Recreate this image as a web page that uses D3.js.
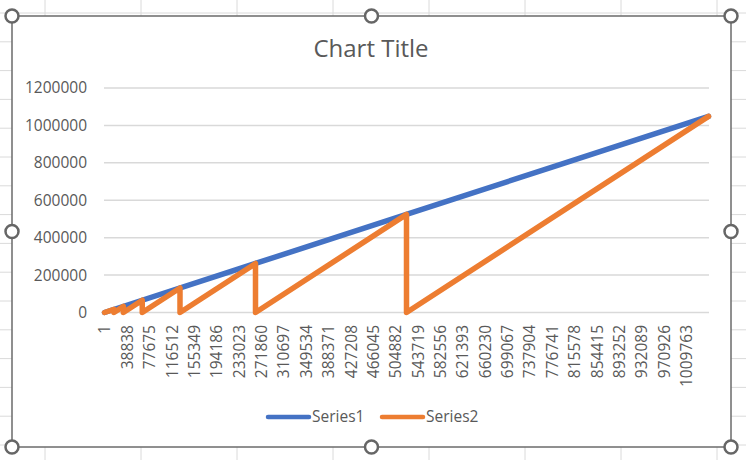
<!DOCTYPE html>
<html>
<head>
<meta charset="utf-8">
<script src="https://cdn.jsdelivr.net/npm/d3@7"></script>
<style>
  html, body { margin: 0; padding: 0; background: #fff; }
  svg { display: block; }
  text { font-family: "Open Sans", "Noto Sans", sans-serif; fill: #595959; }
</style>
</head>
<body>
<div id="chart"></div>
<script>
// values
const xTickLabels = [1, 38838, 77675, 116512, 155349, 194186, 233023, 271860, 310697,
    349534, 388371, 427208, 466045, 504882, 543719, 582556, 621393, 660230, 699067,
    737904, 776741, 815578, 854415, 893252, 932089, 970926, 1009763];
const yTicks = [0, 200000, 400000, 600000, 800000, 1000000, 1200000];

// Series1: straight ramp
const series1X = [1, 262144, 524288, 786432, 1048576];
const series1Y = [0, 262144, 524288, 786432, 1048576];

// Series2: sawtooth, drops back to 0
const series2X = [1, 16384, 16384, 32768, 32768, 65536, 65536, 131072, 131072,
    262144, 262144, 524288, 524288, 1048576];
const series2Y = [0, 16384, 0, 32768, 0, 65536, 0, 131072, 0,
    262144, 0, 524288, 0, 1048576];

const seriesNames = ["Series1", "Series2"];
const seriesColors = ["#4472C4", "#ED7D31"];

const width = 746, height = 460;

const svg = d3.select("#chart").append("svg")
    .attr("width", width)
    .attr("height", height);

// spreadsheet cells behind the chart
const cols = d3.range(45, width, 96);
const rows = d3.range(13, height, 28.8);
svg.append("g").selectAll("line.col").data(cols).enter().append("line")
    .attr("x1", d => d).attr("x2", d => d)
    .attr("y1", 0).attr("y2", height)
    .attr("stroke", "#dadada").attr("stroke-width", 1);
svg.append("g").selectAll("line.row").data(rows).enter().append("line")
    .attr("x1", 0).attr("x2", width)
    .attr("y1", d => d).attr("y2", d => d)
    .attr("stroke", "#dadada").attr("stroke-width", 1);

// chart frame
const frame = { left: 12, top: 16, right: 731, bottom: 447 };
svg.append("rect")
    .attr("x", frame.left).attr("y", frame.top)
    .attr("width", frame.right - frame.left)
    .attr("height", frame.bottom - frame.top)
    .attr("fill", "#fff")
    .attr("stroke", "#6b6b6b")
    .attr("stroke-width", 1.5);

// scales
const x = d3.scaleLinear()
    .domain([1, 1048576])
    .range([104.5, 708.5]);

const y = d3.scaleLinear()
    .domain([0, 1200000])
    .range([312.5, 88]);

// gridlines
svg.append("g").selectAll("line").data(yTicks).enter().append("line")
    .attr("x1", 104).attr("x2", 709)
    .attr("y1", d => y(d)).attr("y2", d => y(d))
    .attr("stroke", "#d9d9d9").attr("stroke-width", 1.5);

// y axis labels
const yAxis = svg.append("g")
    .attr("transform", "translate(95,0)")
    .call(d3.axisLeft(y).tickValues(yTicks).tickSize(0).tickPadding(8).tickFormat(d3.format("d")));
yAxis.select(".domain").remove();
yAxis.selectAll("text")
    .attr("fill", "#595959")
    .style("font-size", "15.5px")
    .style("font-family", "'Open Sans', sans-serif");

// x axis labels (rotated)
const xAxis = svg.append("g")
    .attr("transform", `translate(0, ${y(0)})`)
    .call(d3.axisBottom(x).tickValues(xTickLabels).tickSize(0).tickFormat(d3.format("d")));
xAxis.select(".domain").remove();
xAxis.selectAll("text")
    .attr("fill", "#595959")
    .style("font-size", "15.5px")
    .style("font-family", "'Open Sans', sans-serif")
    .attr("text-anchor", "end")
    .attr("dy", "0.35em")
    .attr("y", 0)
    .attr("transform", "translate(0,12.5) rotate(-90)");

// lines
const line = d3.line()
    .x(d => x(d[0]))
    .y(d => y(d[1]));

const s1 = series1X.map((v, i) => [v, series1Y[i]]);
const s2 = series2X.map((v, i) => [v, series2Y[i]]);

[s1, s2].forEach((pts, i) => {
    svg.append("path")
        .datum(pts)
        .attr("d", line)
        .attr("fill", "none")
        .attr("stroke", seriesColors[i])
        .attr("stroke-width", 5.5)
        .attr("stroke-linejoin", "round")
        .attr("stroke-linecap", "round");
});

// title
svg.append("text")
    .attr("x", 371)
    .attr("y", 57)
    .attr("text-anchor", "middle")
    .style("font-size", "24px")
    .text("Chart Title");

// legend
const legend = svg.append("g").attr("transform", "translate(268,417)");
const legendX = [0, 114];
seriesNames.forEach((name, i) => {
    const g = legend.append("g").attr("transform", `translate(${legendX[i]},0)`);
    g.append("line")
        .attr("x1", 0).attr("x2", 41)
        .attr("y1", 0).attr("y2", 0)
        .attr("stroke", seriesColors[i])
        .attr("stroke-width", 4.5)
        .attr("stroke-linecap", "round");
    g.append("text")
        .attr("x", 44)
        .attr("y", 0)
        .attr("dy", "0.35em")
        .style("font-size", "15.5px")
        .text(name);
});

// selection handles
const hx = [frame.left, (frame.left + frame.right) / 2, frame.right];
const hy = [frame.top, (frame.top + frame.bottom) / 2, frame.bottom];
const handles = [];
hx.forEach((a, i) => hy.forEach((b, j) => {
    if (!(i === 1 && j === 1)) handles.push([a, b]);
}));
svg.append("g").selectAll("circle").data(handles).enter().append("circle")
    .attr("cx", d => d[0]).attr("cy", d => d[1])
    .attr("r", 6.5)
    .attr("fill", "#fff")
    .attr("stroke", "#666")
    .attr("stroke-width", 2.5);
</script>
</body>
</html>
